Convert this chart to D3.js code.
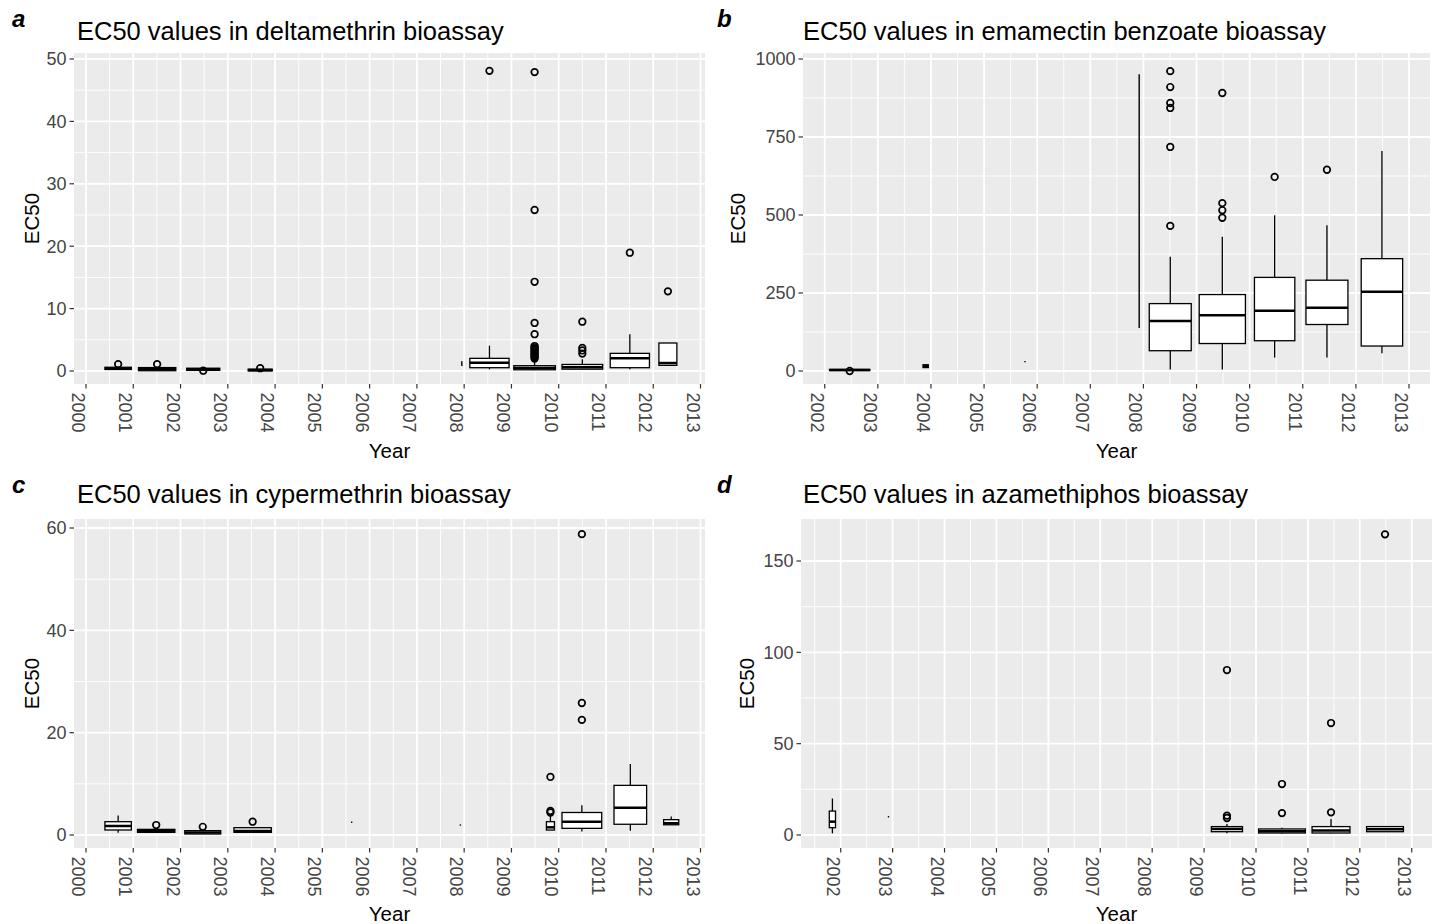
<!DOCTYPE html>
<html><head><meta charset="utf-8">
<script src="https://cdn.jsdelivr.net/npm/d3@7"></script>
<style>
body{margin:0;background:#fff;}
svg{display:block;font-family:"Liberation Sans",Arial,sans-serif;}
</style>
</head><body>
<svg id="chart" width="1436" height="924"></svg>
<script>
// ---------- Panel a: deltamethrin ----------
const deltaGroups  = [2001, 2002, 2003, 2004, 2008, 2009, 2010, 2011, 2012, 2013];
const deltaXmin    = [2000.40, 2001.11, 2002.13, 2003.43, 2007.95, 2008.12, 2009.05, 2010.07, 2011.09, 2012.12];
const deltaXmax    = [2000.96, 2001.90, 2002.83, 2003.94, 2007.95, 2008.95, 2009.93, 2010.93, 2011.92, 2012.50];
const deltaLow     = [0.20, 0.00, 0.05, 0.00, 0.90, 0.27, 0.15, 0.25, 0.27, 0.91];
const deltaQ1      = [0.25, 0.05, 0.10, 0.02, 0.95, 0.53, 0.20, 0.30, 0.53, 0.91];
const deltaMedian  = [0.40, 0.30, 0.30, 0.15, 1.20, 1.34, 0.50, 0.60, 2.03, 1.28];
const deltaQ3      = [0.60, 0.55, 0.45, 0.30, 1.45, 2.03, 0.85, 1.05, 2.83, 4.49];
const deltaHigh    = [0.70, 0.60, 0.50, 0.35, 1.50, 4.06, 1.50, 1.90, 5.90, 4.49];
const deltaOutliers = [[1.1], [1.1], [0.05], [0.45], [], [48.1],
  [47.9, 25.8, 14.3, 7.7, 5.9, 4.0, 3.8, 3.6, 3.4, 3.2, 3.0, 2.8, 2.6, 2.4, 2.2, 2.0],
  [7.9, 3.7, 3.3, 2.8], [18.96], [12.77]];
const deltaYTicks = [0, 10, 20, 30, 40, 50];
const deltaXTicks = [2000, 2001, 2002, 2003, 2004, 2005, 2006, 2007, 2008, 2009, 2010, 2011, 2012, 2013];

// ---------- Panel b: emamectin benzoate ----------
const emaGroups   = [2003, 2004, 2006, 2008, 2009, 2010, 2011, 2012, 2013];
const emaXmin     = [2002.09, 2003.85, 2005.77, 2007.92, 2008.11, 2009.05, 2010.09, 2011.06, 2012.10];
const emaXmax     = [2002.85, 2003.95, 2005.77, 2007.92, 2008.90, 2009.92, 2010.85, 2011.85, 2012.88];
const emaLow      = [1.5, 10, 30, 140, 5, 5, 43, 43, 57];
const emaQ1       = [1.5, 11, 30, 140, 65, 88, 97, 149, 80];
const emaMedian   = [3, 15, 30, 500, 160, 179, 193, 203, 254];
const emaQ3       = [5, 20, 30, 949, 216, 245, 300, 291, 360];
const emaHigh     = [6, 21, 30, 949, 366, 430, 499, 467, 705];
const emaOutliers = [[0], [], [], [], [961, 910, 859, 843, 718, 465], [891, 538, 515, 491], [622], [645], []];
const emaYTicks = [0, 250, 500, 750, 1000];
const emaXTicks = [2002, 2003, 2004, 2005, 2006, 2007, 2008, 2009, 2010, 2011, 2012, 2013];

// ---------- Panel c: cypermethrin ----------
const cyperGroups   = [2001, 2002, 2003, 2004, 2006, 2008, 2010, 2011, 2012, 2013];
const cyperXmin     = [2000.40, 2001.09, 2002.09, 2003.13, 2005.62, 2007.92, 2009.74, 2010.07, 2011.17, 2012.22];
const cyperXmax     = [2000.96, 2001.88, 2002.85, 2003.92, 2005.62, 2007.92, 2009.91, 2010.91, 2011.86, 2012.54];
const cyperLow      = [0.46, 0.50, 0.20, 0.50, 2.5, 1.95, 0.97, 0.70, 0.85, 2.0];
const cyperQ1       = [0.98, 0.52, 0.20, 0.52, 2.5, 1.95, 0.97, 1.30, 2.10, 2.0];
const cyperMedian   = [1.76, 0.80, 0.50, 0.80, 2.5, 1.95, 1.50, 2.60, 5.35, 2.3];
const cyperQ3       = [2.60, 1.10, 0.85, 1.43, 2.5, 1.95, 2.60, 4.40, 9.70, 3.0];
const cyperHigh     = [3.80, 1.20, 0.90, 1.50, 2.5, 1.95, 3.80, 5.80, 13.9, 3.6];
const cyperOutliers = [[], [1.95], [1.6], [2.6], [], [], [11.35, 4.7, 4.4], [58.8, 25.8, 22.5], [], []];
const cyperYTicks = [0, 20, 40, 60];
const cyperXTicks = [2000, 2001, 2002, 2003, 2004, 2005, 2006, 2007, 2008, 2009, 2010, 2011, 2012, 2013];

// ---------- Panel d: azamethiphos ----------
const azaGroups   = [2002, 2003, 2010, 2011, 2012, 2013];
const azaXmin     = [2001.78, 2002.92, 2009.14, 2010.05, 2011.08, 2012.13];
const azaXmax     = [2001.90, 2002.92, 2009.74, 2010.95, 2011.81, 2012.84];
const azaLow      = [0.9, 10, 0.9, 0.8, 0.8, 1.8];
const azaQ1       = [4.0, 10, 1.8, 1.1, 1.1, 1.8];
const azaMedian   = [7.3, 10, 3.3, 2.0, 2.4, 3.1];
const azaQ3       = [13.1, 10, 4.6, 3.3, 4.6, 4.6];
const azaHigh     = [20, 10, 6.0, 4.0, 8.8, 4.6];
const azaOutliers = [[], [], [90.3, 10.6, 9.3], [27.9, 12.0], [61.3, 12.4], [164.6]];
const azaYTicks = [0, 50, 100, 150];
const azaXTicks = [2002, 2003, 2004, 2005, 2006, 2007, 2008, 2009, 2010, 2011, 2012, 2013];

// ---------- layout (pixels) & scale limits ----------
const panels = [
  {letter: "a", title: "EC50 values in deltamethrin bioassay",
   rect: {x0: 74, x1: 705, y0: 53, y1: 384}, xDomain: [1999.746, 2013.095], yDomain: [-2.08, 50.96],
   xTicks: deltaXTicks, yTicks: deltaYTicks,
   xmin: deltaXmin, xmax: deltaXmax, low: deltaLow, q1: deltaQ1, med: deltaMedian, q3: deltaQ3, high: deltaHigh, out: deltaOutliers,
   letterPos: [12, 27], titlePos: [77, 40], yLabX: 32, xLabY: 458},
  {letter: "b", title: "EC50 values in emamectin benzoate bioassay",
   rect: {x0: 803, x1: 1430, y0: 53, y1: 384}, xDomain: [2001.591, 2013.395], yDomain: [-41.7, 1019.2],
   xTicks: emaXTicks, yTicks: emaYTicks,
   xmin: emaXmin, xmax: emaXmax, low: emaLow, q1: emaQ1, med: emaMedian, q3: emaQ3, high: emaHigh, out: emaOutliers,
   letterPos: [717, 27], titlePos: [803, 40], yLabX: 738, xLabY: 458},
  {letter: "c", title: "EC50 values in cypermethrin bioassay",
   rect: {x0: 74, x1: 705, y0: 519, y1: 848}, xDomain: [1999.746, 2013.095], yDomain: [-2.54, 61.76],
   xTicks: cyperXTicks, yTicks: cyperYTicks,
   xmin: cyperXmin, xmax: cyperXmax, low: cyperLow, q1: cyperQ1, med: cyperMedian, q3: cyperQ3, high: cyperHigh, out: cyperOutliers,
   letterPos: [12, 493], titlePos: [77, 503], yLabX: 32, xLabY: 921},
  {letter: "d", title: "EC50 values in azamethiphos bioassay",
   rect: {x0: 801, x1: 1432, y0: 519, y1: 848}, xDomain: [2001.235, 2013.39], yDomain: [-7.12, 173.0],
   xTicks: azaXTicks, yTicks: azaYTicks,
   xmin: azaXmin, xmax: azaXmax, low: azaLow, q1: azaQ1, med: azaMedian, q3: azaQ3, high: azaHigh, out: azaOutliers,
   letterPos: [717, 493], titlePos: [803, 503], yLabX: 747, xLabY: 921}
];

const svg = d3.select("#chart");
const tickLen = 4.5;

panels.forEach((p, pi) => {
  const r = p.rect;
  const xs = d3.scaleLinear().domain(p.xDomain).range([r.x0, r.x1]);
  const ys = d3.scaleLinear().domain(p.yDomain).range([r.y1, r.y0]);
  const g = svg.append("g");

  g.append("rect").attr("x", r.x0).attr("y", r.y0).attr("width", r.x1 - r.x0).attr("height", r.y1 - r.y0)
    .attr("fill", "#EBEBEB");

  const xMinor = [];
  const xStep = p.xTicks[1] - p.xTicks[0];
  [p.xTicks[0] - xStep / 2, ...p.xTicks.map(t => t + xStep / 2)].forEach(v => {
    if (v > p.xDomain[0] && v < p.xDomain[1]) xMinor.push(v);
  });
  const yMinor = [];
  const yStep = p.yTicks[1] - p.yTicks[0];
  [p.yTicks[0] - yStep / 2, ...p.yTicks.map(t => t + yStep / 2)].forEach(v => {
    if (v > p.yDomain[0] && v < p.yDomain[1]) yMinor.push(v);
  });
  g.selectAll(".xminor").data(xMinor).join("line")
    .attr("x1", d => xs(d)).attr("x2", d => xs(d)).attr("y1", r.y0).attr("y2", r.y1)
    .attr("stroke", "#fff").attr("stroke-width", 0.9);
  g.selectAll(".yminor").data(yMinor).join("line")
    .attr("x1", r.x0).attr("x2", r.x1).attr("y1", d => ys(d)).attr("y2", d => ys(d))
    .attr("stroke", "#fff").attr("stroke-width", 0.9);
  g.selectAll(".xmajor").data(p.xTicks).join("line")
    .attr("x1", d => xs(d)).attr("x2", d => xs(d)).attr("y1", r.y0).attr("y2", r.y1)
    .attr("stroke", "#fff").attr("stroke-width", 1.8);
  g.selectAll(".ymajor").data(p.yTicks).join("line")
    .attr("x1", r.x0).attr("x2", r.x1).attr("y1", d => ys(d)).attr("y2", d => ys(d))
    .attr("stroke", "#fff").attr("stroke-width", 1.8);

  const clipId = "clip" + pi;
  svg.append("clipPath").attr("id", clipId).append("rect")
    .attr("x", r.x0).attr("y", r.y0).attr("width", r.x1 - r.x0).attr("height", r.y1 - r.y0);
  const marks = g.append("g").attr("clip-path", `url(#${clipId})`);

  p.xmin.forEach((xm, i) => {
    const xc = (xm + p.xmax[i]) / 2;
    const px0 = xs(xm), px1 = xs(p.xmax[i]), pxc = xs(xc);
    const b = marks.append("g");
    b.append("line").attr("x1", pxc).attr("x2", pxc).attr("y1", ys(p.q3[i])).attr("y2", ys(p.high[i]))
      .attr("stroke", "#000").attr("stroke-width", 1.3);
    b.append("line").attr("x1", pxc).attr("x2", pxc).attr("y1", ys(p.q1[i])).attr("y2", ys(p.low[i]))
      .attr("stroke", "#000").attr("stroke-width", 1.3);
    if (px1 - px0 < 1) {
      b.append("line").attr("x1", pxc).attr("x2", pxc).attr("y1", ys(p.q3[i])).attr("y2", ys(p.q1[i]))
        .attr("stroke", "#000").attr("stroke-width", 1.4).attr("stroke-linecap", "square");
    } else {
      b.append("rect").attr("x", px0).attr("y", ys(p.q3[i]))
        .attr("width", px1 - px0).attr("height", Math.max(0.01, ys(p.q1[i]) - ys(p.q3[i])))
        .attr("fill", "#fff").attr("stroke", "#000").attr("stroke-width", 1.3);
      b.append("line").attr("x1", px0).attr("x2", px1).attr("y1", ys(p.med[i])).attr("y2", ys(p.med[i]))
        .attr("stroke", "#000").attr("stroke-width", 2.5);
    }
    b.selectAll("circle").data(p.out[i]).join("circle")
      .attr("cx", pxc).attr("cy", d => ys(d)).attr("r", 3.3)
      .attr("fill", "none").attr("stroke", "#000").attr("stroke-width", 1.7);
  });

  g.selectAll(".xt").data(p.xTicks).join("line")
    .attr("x1", d => xs(d)).attr("x2", d => xs(d)).attr("y1", r.y1).attr("y2", r.y1 + tickLen)
    .attr("stroke", "#333").attr("stroke-width", 1.2);
  g.selectAll(".yt").data(p.yTicks).join("line")
    .attr("x1", r.x0 - tickLen).attr("x2", r.x0).attr("y1", d => ys(d)).attr("y2", d => ys(d))
    .attr("stroke", "#333").attr("stroke-width", 1.2);

  g.selectAll(".xl").data(p.xTicks).join("text")
    .attr("transform", d => `translate(${xs(d)},${r.y1 + tickLen + 4}) rotate(90)`)
    .attr("dy", 14).attr("text-anchor", "start")
    .attr("font-size", 18).attr("fill", "#444").text(d => d);
  g.selectAll(".yl").data(p.yTicks).join("text")
    .attr("x", r.x0 - tickLen - 3).attr("y", d => ys(d)).attr("dy", "0.35em")
    .attr("text-anchor", "end").attr("font-size", 18).attr("fill", "#444").text(d => d);

  g.append("text").attr("x", (r.x0 + r.x1) / 2).attr("y", p.xLabY).attr("text-anchor", "middle")
    .attr("font-size", 20.5).attr("fill", "#000").text("Year");
  g.append("text").attr("transform", `translate(${p.yLabX},${(r.y0 + r.y1) / 2}) rotate(-90)`)
    .attr("dy", "0.35em").attr("text-anchor", "middle").attr("font-size", 20.5).attr("fill", "#000").text("EC50");

  g.append("text").attr("x", p.titlePos[0]).attr("y", p.titlePos[1]).attr("font-size", 25.5)
    .attr("fill", "#000").text(p.title);
  g.append("text").attr("x", p.letterPos[0]).attr("y", p.letterPos[1]).attr("font-size", 24)
    .attr("font-weight", "bold").attr("font-style", "italic").attr("fill", "#000").text(p.letter);
});
</script>
</body></html>
